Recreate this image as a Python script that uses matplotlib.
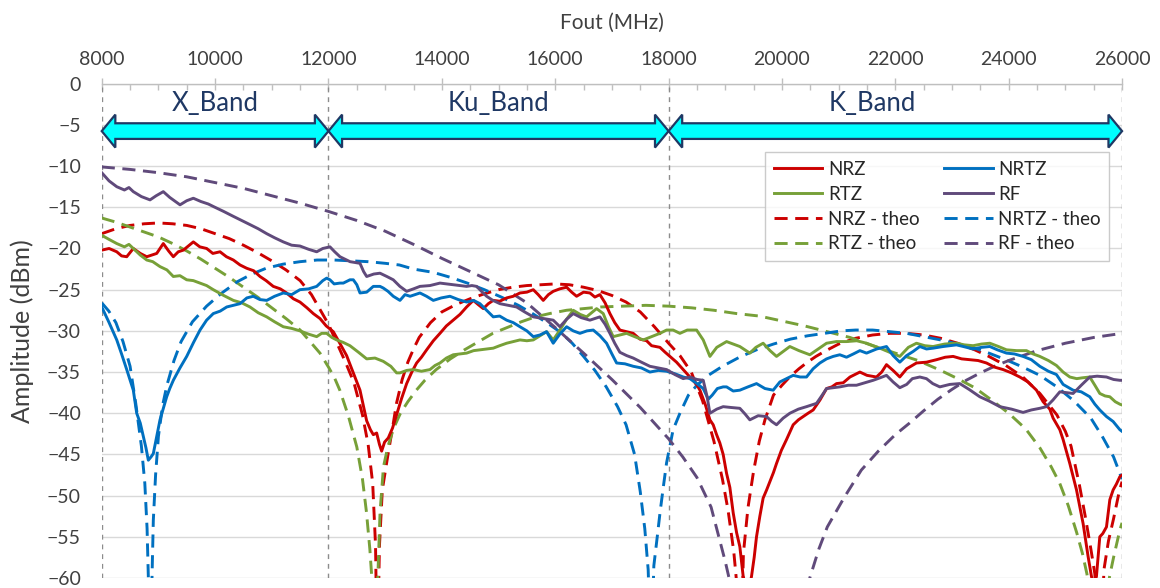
import matplotlib
matplotlib.use("Agg")
import matplotlib.pyplot as plt
from matplotlib.patches import Polygon
from matplotlib.ticker import MultipleLocator

# ---------------- data ----------------
# Frequency bands (MHz)
band_names = ["X_Band", "Ku_Band", "K_Band"]
band_edges = [8000, 12000, 18000, 26000]
band_label_x = [10000, 15000, 21600]

# Measured output spectra (MHz, dBm)
nrz_f = [8000, 8130, 8265, 8350, 8441, 8557, 8680, 8794, 8970, 9086, 9180, 9263, 9350, 9439, 9616, 9730,
         9851, 9960, 10087, 10200, 10322, 10440, 10557, 10680, 10792, 10900, 11026, 11150, 11262, 11380,
         11497, 11620, 11732, 11850, 11960, 12085, 12200, 12320, 12438, 12556, 12673, 12740, 12791, 12850,
         12900, 12938, 12990, 13055, 13130, 13202, 13290, 13379, 13470, 13555, 13640, 13732, 13850, 13967,
         14080, 14201, 14320, 14437, 14555, 14640, 14731, 14820, 14907, 15020, 15143, 15260, 15378, 15500,
         15613, 15700, 15789, 15880, 15965, 16080, 16201, 16290, 16377, 16500, 16612, 16700, 16788, 16880,
         16965, 17050, 17141, 17260, 17376, 17494, 17612, 17700, 17847, 17940, 18023, 18140, 18258, 18376,
         18494, 18553, 18650, 18729, 18787, 18847, 18904, 18963, 19023, 19081, 19140, 19200, 19257, 19316,
         19400, 19463, 19510, 19551, 19610, 19668, 19730, 19787, 19850, 19904, 19990, 20080, 20140, 20198,
         20290, 20374, 20460, 20551, 20670, 20787, 20880, 20963, 21081, 21200, 21375, 21500, 21667, 21760,
         21844, 21960, 22079, 22200, 22373, 22550, 22726, 22880, 23020, 23170, 23314, 23460, 23608, 23750,
         23902, 24050, 24196, 24340, 24490, 24607, 24725, 24784, 24902, 24960, 25078, 25196, 25313, 25401,
         25460, 25500, 25548, 25607, 25660, 25725, 25784, 25843, 25900, 25961, 26000]
nrz_db = [-20.2, -20.0, -20.4, -20.9, -21.0, -20.0, -20.6, -21.0, -20.6, -19.4, -20.3, -21.0, -20.4, -20.2,
          -19.2, -19.8, -20.0, -20.6, -20.4, -21.0, -21.4, -22.0, -22.4, -22.7, -23.4, -23.9, -24.6, -24.9,
          -25.4, -26.1, -26.5, -27.2, -27.9, -28.5, -29.4, -30.1, -31.5, -33.0, -35.1, -37.2, -40.9, -42.0,
          -42.6, -42.4, -43.8, -44.6, -43.5, -43.0, -41.8, -40.2, -38.2, -36.4, -35.0, -33.9, -33.2, -32.3,
          -31.2, -30.3, -29.4, -28.7, -28.0, -27.1, -26.3, -26.8, -27.3, -26.7, -26.3, -26.4, -26.0, -25.8,
          -25.4, -25.3, -25.0, -25.6, -26.3, -25.6, -25.2, -24.9, -24.7, -25.3, -25.8, -25.3, -25.4, -25.9,
          -25.6, -26.6, -27.9, -29.0, -29.9, -30.1, -30.3, -31.0, -31.2, -31.8, -32.0, -32.6, -33.1, -33.8,
          -34.7, -35.6, -36.5, -37.2, -39.0, -40.8, -41.4, -42.6, -43.6, -45.0, -47.3, -49.0, -52.1, -54.5,
          -56.2, -59.8, -62.0, -59.8, -57.5, -55.0, -52.5, -50.3, -49.3, -48.3, -47.2, -46.1, -44.5, -43.2,
          -42.3, -41.4, -40.8, -40.4, -40.0, -39.6, -38.4, -37.0, -36.8, -36.4, -36.3, -35.6, -35.0, -35.4,
          -35.6, -35.0, -34.1, -34.8, -35.6, -34.6, -33.9, -33.8, -33.5, -33.2, -33.1, -33.4, -33.5, -33.6,
          -33.9, -34.4, -34.7, -35.1, -35.6, -36.2, -37.2, -38.6, -39.5, -40.6, -42.0, -43.2, -46.1, -49.3,
          -53.4, -57.4, -59.8, -61.0, -59.8, -55.0, -54.6, -53.8, -50.5, -49.3, -48.6, -47.7, -47.5]

nrtz_f = [8000, 8130, 8265, 8350, 8441, 8557, 8617, 8680, 8734, 8780, 8822, 8870, 8910, 8970, 9028, 9086,
          9146, 9200, 9263, 9380, 9499, 9620, 9734, 9850, 9968, 10090, 10205, 10320, 10439, 10560, 10674,
          10790, 10910, 11050, 11203, 11350, 11497, 11650, 11792, 11900, 11968, 12026, 12100, 12203, 12262,
          12379, 12438, 12500, 12556, 12674, 12791, 12909, 12967, 13050, 13143, 13261, 13350, 13440, 13614,
          13730, 13849, 13990, 14143, 14290, 14437, 14560, 14672, 14790, 14907, 15020, 15143, 15260, 15378,
          15500, 15613, 15730, 15848, 15965, 16080, 16201, 16318, 16436, 16560, 16671, 16790, 16906, 17000,
          17083, 17230, 17376, 17520, 17670, 17820, 17965, 18110, 18258, 18376, 18500, 18611, 18700, 18770,
          18860, 18963, 19023, 19140, 19257, 19400, 19551, 19700, 19845, 19963, 20080, 20198, 20320, 20433,
          20550, 20669, 20787, 20904, 21020, 21139, 21260, 21375, 21492, 21670, 21844, 21961, 22079, 22200,
          22314, 22432, 22550, 22667, 22843, 22960, 23078, 23200, 23372, 23520, 23667, 23800, 23961, 24100,
          24254, 24400, 24549, 24700, 24842, 24960, 25136, 25280, 25430, 25520, 25607, 25725, 25842, 25961,
          26000]
nrtz_db = [-27.1, -29.0, -31.1, -32.8, -34.7, -37.2, -40.0, -41.2, -42.8, -44.2, -45.7, -45.3, -44.9, -42.8,
           -40.8, -39.4, -38.0, -37.0, -36.0, -34.5, -33.1, -31.4, -29.9, -28.7, -27.9, -27.6, -27.1, -26.9,
           -26.7, -26.0, -25.8, -26.2, -26.3, -25.8, -25.4, -25.6, -25.0, -24.9, -24.6, -23.9, -23.6, -23.8,
           -24.3, -24.2, -24.2, -23.8, -23.8, -24.4, -25.4, -25.3, -24.6, -24.6, -24.8, -25.2, -25.8, -26.3,
           -25.6, -25.8, -25.4, -25.8, -26.3, -26.0, -25.8, -26.2, -26.5, -26.3, -26.7, -27.5, -28.3, -28.2,
           -28.7, -29.0, -29.5, -30.0, -30.7, -30.5, -30.1, -31.5, -30.4, -29.5, -30.0, -30.3, -30.0, -29.9,
           -30.6, -31.5, -32.8, -33.9, -34.0, -34.3, -34.5, -35.0, -34.8, -34.9, -35.2, -35.6, -35.8, -36.4,
           -37.0, -38.3, -37.8, -37.0, -36.8, -36.8, -37.3, -37.2, -36.8, -36.4, -37.0, -37.2, -36.2, -35.8,
           -35.4, -35.6, -35.6, -34.6, -33.9, -33.4, -33.1, -32.9, -33.2, -32.8, -32.4, -32.7, -32.2, -31.9,
           -33.0, -33.8, -33.0, -32.5, -31.9, -32.2, -32.1, -31.9, -31.8, -31.7, -31.9, -32.2, -32.0, -31.9,
           -32.3, -32.7, -32.8, -33.1, -33.5, -34.3, -34.9, -35.3, -36.5, -37.2, -37.4, -38.0, -38.9, -39.6,
           -40.4, -41.0, -42.0, -42.2]

rtz_f = [8000, 8130, 8265, 8400, 8480, 8557, 8680, 8794, 8900, 9028, 9150, 9263, 9380, 9499, 9616, 9734,
         9850, 9968, 10150, 10322, 10470, 10615, 10760, 10910, 11050, 11203, 11350, 11497, 11650, 11792,
         11880, 11968, 12060, 12144, 12260, 12379, 12530, 12674, 12820, 12967, 13100, 13202, 13261, 13380,
         13496, 13640, 13790, 13880, 13967, 14080, 14201, 14320, 14437, 14560, 14672, 14790, 14907, 15020,
         15143, 15260, 15378, 15500, 15613, 15730, 15848, 15965, 16083, 16200, 16318, 16440, 16553, 16640,
         16730, 16847, 16940, 17023, 17140, 17259, 17400, 17553, 17700, 17847, 17965, 18080, 18200, 18330,
         18494, 18611, 18729, 18850, 19023, 19140, 19257, 19433, 19540, 19668, 19790, 19904, 20020, 20139,
         20300, 20492, 20640, 20787, 20960, 21139, 21320, 21492, 21610, 21727, 21900, 22079, 22230, 22373,
         22520, 22667, 22870, 23078, 23220, 23372, 23520, 23667, 23820, 23961, 24140, 24313, 24430, 24549,
         24700, 24842, 24960, 25078, 25200, 25300, 25430, 25520, 25607, 25700, 25784, 25880, 25961, 26000]
rtz_db = [-18.4, -18.9, -19.4, -19.8, -19.5, -20.0, -20.8, -21.4, -21.6, -22.2, -22.6, -23.4, -23.3, -23.8,
          -23.9, -24.2, -24.5, -25.0, -25.7, -26.3, -26.6, -27.1, -27.8, -28.3, -28.9, -29.5, -29.7, -30.0,
          -30.4, -30.7, -30.3, -30.3, -30.8, -31.1, -31.4, -31.8, -32.6, -33.4, -33.3, -33.7, -34.3, -35.1,
          -35.1, -34.8, -34.7, -34.9, -34.7, -34.2, -33.9, -33.3, -32.9, -32.8, -32.7, -32.4, -32.3, -32.2,
          -32.1, -31.8, -31.5, -31.3, -31.1, -31.2, -31.1, -30.6, -30.1, -31.1, -29.9, -28.6, -27.5, -28.0,
          -28.3, -27.8, -27.3, -27.9, -29.5, -30.7, -30.5, -30.3, -30.7, -31.1, -30.7, -30.3, -29.9, -29.9,
          -30.3, -29.9, -29.9, -31.1, -33.1, -32.0, -31.3, -31.6, -31.9, -32.7, -32.0, -31.5, -32.4, -33.1,
          -32.5, -31.9, -32.4, -32.9, -32.2, -31.5, -31.3, -31.3, -31.2, -31.5, -31.8, -32.1, -32.6, -33.1,
          -32.0, -31.5, -31.8, -31.9, -31.6, -31.5, -31.7, -31.8, -31.6, -31.5, -31.9, -32.3, -32.4, -32.4,
          -32.8, -33.1, -33.6, -34.2, -35.0, -35.6, -35.8, -35.7, -35.6, -36.6, -37.6, -37.9, -38.0, -38.6,
          -38.9, -39.0]

rf_f = [8000, 8130, 8265, 8400, 8480, 8557, 8700, 8852, 8960, 9086, 9200, 9381, 9500, 9616, 9750, 9880,
        9968, 10150, 10322, 10470, 10615, 10760, 10910, 11050, 11203, 11350, 11497, 11650, 11792, 11900,
        12026, 12110, 12203, 12380, 12556, 12620, 12674, 12800, 12909, 13030, 13143, 13260, 13379, 13500,
        13614, 13790, 13967, 14080, 14201, 14320, 14437, 14530, 14614, 14700, 14790, 14900, 15025, 15170,
        15319, 15460, 15612, 15790, 15965, 16083, 16200, 16318, 16460, 16612, 16700, 16788, 16880, 16965,
        17050, 17141, 17260, 17376, 17520, 17670, 17820, 17965, 18110, 18258, 18376, 18500, 18611, 18680,
        18729, 18850, 18963, 19100, 19257, 19350, 19433, 19580, 19728, 19820, 19904, 20020, 20139, 20290,
        20433, 20520, 20610, 20700, 20787, 20900, 21021, 21170, 21315, 21460, 21609, 21730, 21844, 21960,
        22079, 22200, 22300, 22432, 22549, 22660, 22785, 22960, 23137, 23300, 23490, 23650, 23843, 24050,
        24254, 24400, 24549, 24666, 24780, 24902, 25020, 25136, 25280, 25430, 25560, 25725, 25850, 25961,
        26000]
rf_db = [-10.8, -11.8, -12.5, -12.9, -12.6, -13.1, -13.7, -14.1, -13.6, -13.1, -13.8, -14.7, -14.2, -13.9,
         -14.3, -14.6, -14.9, -15.5, -16.1, -16.6, -17.1, -17.6, -18.2, -18.7, -19.2, -19.6, -19.7, -20.1,
         -20.4, -20.0, -19.8, -20.4, -21.0, -21.6, -21.8, -22.8, -23.4, -23.1, -23.0, -23.4, -23.8, -24.6,
         -25.2, -24.9, -24.6, -24.5, -24.2, -24.3, -24.4, -24.5, -24.6, -24.5, -24.6, -25.2, -25.8, -26.3,
         -26.7, -26.9, -27.1, -27.7, -28.3, -28.5, -28.7, -29.5, -28.6, -27.9, -28.4, -28.7, -28.5, -28.3,
         -29.2, -30.3, -31.5, -32.6, -33.0, -33.3, -33.8, -34.3, -34.5, -34.7, -35.3, -35.8, -35.6, -35.9,
         -36.0, -38.0, -40.0, -39.5, -39.2, -39.3, -39.4, -40.1, -40.8, -40.3, -40.4, -41.0, -41.4, -40.6,
         -40.0, -39.5, -39.2, -39.0, -38.8, -37.9, -37.0, -36.9, -36.8, -36.6, -36.6, -36.3, -36.0, -35.7,
         -35.4, -36.2, -36.9, -36.5, -35.8, -35.6, -35.8, -36.4, -36.8, -36.5, -36.4, -37.1, -38.0, -38.5,
         -39.2, -39.5, -39.9, -39.6, -39.4, -39.2, -38.4, -37.4, -37.5, -37.6, -36.6, -35.6, -35.5, -35.6,
         -35.9, -36.0, -36.0]

# Theoretical spectra (MHz, dBm)
nrz_theo_f = [8000, 8250, 8500, 8750, 9000, 9250, 9500, 9750, 10000, 10250, 10500, 10750, 11000, 11250,
              11500, 11700, 11850, 12000, 12150, 12300, 12450, 12600, 12700, 12780, 12830, 12860, 12900,
              12950, 13050, 13130, 13200, 13300, 13400, 13500, 13600, 13800, 14000, 14250, 14500, 14750,
              15000, 15250, 15500, 15750, 16000, 16250, 16500, 16750, 17000, 17250, 17500, 17750, 18000,
              18200, 18400, 18600, 18800, 18950, 19050, 19150, 19200, 19260, 19320, 19400, 19500, 19600,
              19700, 19850, 20000, 20150, 20300, 20450, 20600, 20750, 21000, 21300, 21600, 21900, 22200,
              22500, 22800, 23100, 23400, 23650, 23950, 24250, 24550, 24850, 25000, 25100, 25250, 25350,
              25450, 25520, 25600, 25680, 25760, 25850, 25950, 26000]
nrz_theo_db = [-18.2, -17.6, -17.2, -17.0, -16.9, -17.0, -17.2, -17.6, -18.2, -18.8, -19.6, -20.5, -21.5,
               -22.6, -23.9, -25.6, -27.4, -29.2, -31.5, -33.8, -36.3, -40.2, -43.8, -48.5, -56.0, -70.0,
               -56.0, -49.3, -45.0, -41.8, -38.8, -35.9, -33.8, -32.2, -30.8, -29.0, -27.7, -26.8, -26.1,
               -25.5, -25.0, -24.7, -24.5, -24.4, -24.3, -24.4, -24.7, -25.1, -25.7, -26.5, -27.7, -29.5,
               -31.5, -33.0, -35.0, -38.5, -43.4, -48.0, -51.8, -56.8, -60.5, -75.0, -57.0, -51.5, -47.0,
               -43.4, -40.8, -37.8, -36.6, -35.5, -34.6, -33.8, -33.1, -32.5, -31.6, -30.9, -30.5, -30.3,
               -30.3, -30.5, -30.9, -31.5, -32.3, -33.1, -34.2, -35.6, -37.6, -40.2, -42.2, -44.0, -48.8,
               -52.5, -56.5, -59.5, -75.0, -59.0, -55.5, -52.8, -49.5, -48.3]

nrtz_theo_f = [8000, 8125, 8250, 8375, 8500, 8600, 8700, 8760, 8800, 8830, 8850, 8880, 8910, 8950, 9000,
               9075, 9150, 9275, 9400, 9600, 9850, 10100, 10400, 10650, 10900, 11200, 11500, 11800, 12100,
               12400, 12700, 13000, 13250, 13500, 13850, 14150, 14450, 14750, 15050, 15350, 15600, 15850,
               16100, 16300, 16500, 16700, 16900, 17100, 17250, 17400, 17500, 17580, 17640, 17690, 17740,
               17800, 17850, 17910, 17965, 18080, 18200, 18350, 18500, 18700, 18950, 19250, 19550, 19850,
               20150, 20450, 20750, 21050, 21300, 21600, 21900, 22200, 22500, 22800, 23100, 23400, 23650,
               23950, 24250, 24550, 24850, 25150, 25450, 25650, 25850, 26000]
nrtz_theo_db = [-26.6, -27.6, -29.0, -31.3, -34.3, -38.8, -44.0, -48.5, -54.0, -62.0, -75.0, -62.0, -53.0,
                -47.5, -42.8, -39.0, -36.6, -33.6, -31.3, -28.9, -27.0, -25.5, -24.0, -23.1, -22.4, -21.9,
                -21.6, -21.4, -21.4, -21.5, -21.6, -21.8, -22.0, -22.5, -22.9, -23.5, -24.2, -25.0, -25.9,
                -26.9, -27.9, -29.0, -30.2, -31.5, -33.1, -34.8, -36.8, -39.2, -41.4, -45.0, -49.5, -54.0,
                -59.0, -70.0, -58.5, -55.0, -52.0, -48.8, -46.0, -42.0, -40.0, -37.8, -36.6, -35.4, -34.3,
                -33.2, -32.3, -31.6, -31.0, -30.6, -30.3, -30.0, -29.9, -29.9, -30.1, -30.3, -30.7, -31.1,
                -31.6, -32.1, -32.7, -33.5, -34.4, -35.4, -36.8, -38.5, -40.6, -42.8, -45.3, -48.0]

rtz_theo_f = [8000, 8250, 8500, 8750, 9000, 9250, 9500, 9750, 10000, 10250, 10500, 10750, 11000, 11250,
              11500, 11700, 11850, 12000, 12100, 12200, 12350, 12500, 12600, 12670, 12730, 12770, 12820,
              12870, 12910, 12970, 13050, 13150, 13270, 13400, 13550, 13700, 13900, 14150, 14400, 14650,
              14900, 15150, 15400, 15650, 15900, 16200, 16500, 16800, 17200, 17600, 18000, 18400, 18800,
              19200, 19600, 20000, 20400, 20800, 21200, 21600, 22000, 22400, 22800, 23100, 23400, 23700,
              24000, 24300, 24550, 24750, 24900, 25050, 25200, 25300, 25380, 25450, 25600, 25720, 25780,
              25850, 25960, 26000]
rtz_theo_db = [-16.3, -16.8, -17.4, -18.0, -18.6, -19.4, -20.3, -21.3, -22.4, -23.5, -24.7, -25.9, -27.2,
               -28.5, -29.9, -31.5, -32.7, -34.4, -35.6, -37.2, -40.3, -44.1, -48.0, -52.0, -56.5, -60.5,
               -75.0, -60.0, -52.0, -46.5, -44.0, -41.8, -40.0, -38.6, -37.2, -36.0, -34.7, -33.4, -32.3,
               -31.3, -30.3, -29.6, -28.9, -28.3, -27.9, -27.5, -27.3, -27.1, -27.0, -26.9, -27.0, -27.2,
               -27.5, -27.9, -28.2, -28.8, -29.4, -30.1, -30.8, -31.8, -32.7, -33.6, -34.8, -35.8, -36.9,
               -38.4, -40.0, -41.9, -44.2, -46.5, -48.5, -51.2, -54.5, -57.0, -59.5, -63.0, -75.0, -63.0,
               -59.8, -57.5, -54.2, -53.3]

rf_theo_f = [8000, 8500, 9000, 9500, 10000, 10500, 11000, 11500, 12000, 12500, 13000, 13500, 14000, 14500,
             15000, 15500, 16000, 16500, 17000, 17500, 18000, 18250, 18500, 18750, 19000, 19200, 19800,
             20400, 20500, 20650, 20800, 21100, 21400, 21700, 22000, 22250, 22500, 22750, 23000, 23250,
             23500, 23750, 24000, 24500, 25000, 25500, 26000]
rf_theo_db = [-10.1, -10.4, -10.8, -11.3, -12.0, -12.7, -13.6, -14.5, -15.5, -16.6, -17.9, -19.5, -21.2,
              -22.8, -24.4, -26.6, -29.6, -32.7, -35.9, -39.3, -43.1, -45.3, -47.8, -51.4, -58.0, -64.0,
              -80.0, -62.0, -59.8, -56.5, -53.8, -50.2, -46.9, -44.6, -42.6, -41.2, -39.7, -38.3, -37.1,
              -36.0, -35.1, -34.3, -33.6, -32.4, -31.5, -30.8, -30.3]

# ---------------- styling ----------------
FONT = ["Lato", "DejaVu Sans"]
plt.rcParams["font.family"] = FONT

C_NRZ = "#CC0000"
C_NRTZ = "#0070C0"
C_RTZ = "#77A038"
C_RF = "#604A7B"
NAVY = "#1F3864"
TXT = "#404040"

fig = plt.figure(figsize=(11.6, 5.88), dpi=100)
ax = fig.add_axes([0.0877, 0.017, 0.8796, 0.8406])

LW = 2.1
DASH = (4.5, 2.6)

measured = [
    (nrz_f, nrz_db, C_NRZ, "NRZ"),
    (rtz_f, rtz_db, C_RTZ, "RTZ"),
    (nrtz_f, nrtz_db, C_NRTZ, "NRTZ"),
    (rf_f, rf_db, C_RF, "RF"),
]
theory = [
    (nrz_theo_f, nrz_theo_db, C_NRZ, "NRZ - theo"),
    (rtz_theo_f, rtz_theo_db, C_RTZ, "RTZ - theo"),
    (nrtz_theo_f, nrtz_theo_db, C_NRTZ, "NRTZ - theo"),
    (rf_theo_f, rf_theo_db, C_RF, "RF - theo"),
]

handles = {}
for f, v, c, name in theory:
    (h,) = ax.plot(f, v, color=c, lw=LW, ls=(0, DASH), zorder=3, label=name)
    handles[name] = h
for f, v, c, name in measured:
    (h,) = ax.plot(f, v, color=c, lw=LW, zorder=4, label=name)
    handles[name] = h

# axes limits and grid
ax.set_xlim(band_edges[0], band_edges[-1])
ax.set_ylim(-60, 0)
ax.yaxis.set_major_locator(MultipleLocator(5))
ax.xaxis.set_major_locator(MultipleLocator(2000))
ax.xaxis.set_minor_locator(MultipleLocator(500))
ax.grid(axis="y", color="#D9D9D9", lw=1.0, zorder=0)
ax.set_axisbelow(True)

for e in band_edges:
    ax.axvline(e, color="#8C8C8C", lw=1.0, ls=(0, (3.5, 3.5)), zorder=1)

for s in ["left", "right", "bottom"]:
    ax.spines[s].set_visible(False)
ax.spines["top"].set_color("#BFBFBF")
ax.spines["top"].set_linewidth(1.0)

ax.xaxis.tick_top()
ax.xaxis.set_label_position("top")
ax.tick_params(axis="x", which="major", direction="inout", length=8, width=1.0,
               color="#BFBFBF", labelsize=14, labelcolor=TXT, pad=7)
ax.tick_params(axis="x", which="minor", direction="in", length=4, width=1.0, color="#BFBFBF")
ax.tick_params(axis="y", which="major", length=0, labelsize=14, labelcolor=TXT, pad=15)

ax.set_xlabel("Fout (MHz)", fontsize=15, color=TXT, labelpad=16)
ax.set_ylabel("Amplitude (dBm)", fontsize=18, color=TXT, labelpad=9)

# band arrows
y_c = -5.75
shaft = 0.95
head = 2.0
head_len = 240
for i, name in enumerate(band_names):
    x0, x1 = band_edges[i], band_edges[i + 1]
    pts = [
        (x0, y_c), (x0 + head_len, y_c + head), (x0 + head_len, y_c + shaft),
        (x1 - head_len, y_c + shaft), (x1 - head_len, y_c + head), (x1, y_c),
        (x1 - head_len, y_c - head), (x1 - head_len, y_c - shaft),
        (x0 + head_len, y_c - shaft), (x0 + head_len, y_c - head),
    ]
    ax.add_patch(Polygon(pts, closed=True, facecolor="#00FFFF", edgecolor=NAVY,
                         lw=1.6, zorder=5, clip_on=False))
    ax.text(band_label_x[i], -2.4, name, ha="center", va="center",
            fontsize=18.5, color=NAVY, zorder=6)

order = ["NRZ", "RTZ", "NRZ - theo", "RTZ - theo", "NRTZ", "RF", "NRTZ - theo", "RF - theo"]
leg = ax.legend([handles[k] for k in order], order, ncol=2, loc="upper right",
                bbox_to_anchor=(0.9875, 0.861), fontsize=13.5, frameon=True, fancybox=False,
                edgecolor="#BFBFBF", handlelength=2.6, handletextpad=0.3,
                columnspacing=1.3, labelspacing=0.42, borderpad=0.45, borderaxespad=0.0)
leg.get_frame().set_linewidth(1.0)
for t in leg.get_texts():
    t.set_color("#262626")
leg.set_zorder(7)

fig.savefig("out.png", dpi=100)
